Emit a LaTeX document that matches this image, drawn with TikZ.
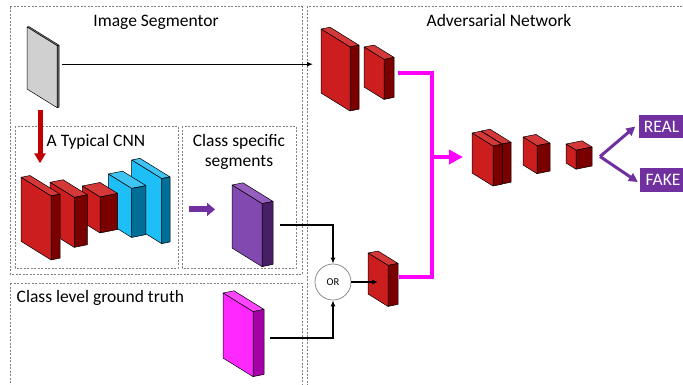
\documentclass[tikz,border=0pt]{standalone}
\usepackage{fontspec}
\setmainfont{Carlito}
\usepackage{tikz}
\usetikzlibrary{arrows.meta, calc}
\definecolor{redF}{RGB}{204, 30, 30}
\definecolor{redS}{RGB}{122, 0, 0}
\definecolor{redT}{RGB}{212, 56, 56}
\definecolor{cyanF}{RGB}{30, 190, 246}
\definecolor{cyanS}{RGB}{0, 110, 150}
\definecolor{cyanT}{RGB}{62, 196, 242}
\definecolor{grayF}{RGB}{208, 208, 208}
\definecolor{grayS}{RGB}{95, 95, 95}
\definecolor{grayT}{RGB}{150, 150, 150}
\definecolor{purpF}{RGB}{130, 74, 176}
\definecolor{purpS}{RGB}{72, 30, 102}
\definecolor{purpT}{RGB}{150, 94, 190}
\definecolor{magF}{RGB}{255, 40, 255}
\definecolor{magS}{RGB}{165, 0, 165}
\definecolor{magT}{RGB}{255, 70, 255}
\definecolor{magenta1}{RGB}{255, 0, 255}
\definecolor{violet1}{RGB}{112, 48, 160}
\definecolor{arrowred}{RGB}{192, 0, 0}

% one layer: name, x, y, depth, height, thickness, colour family
\newcommand{\layerbox}[7]{%
  \filldraw[fill=#7T, boxedge] (#2,#3) -- ++(#4,0.62*#4) -- ++(#6,-0.2*#6) -- ++(-#4,-0.62*#4) -- cycle;
  \filldraw[fill=#7S, boxedge] (#2+#4,#3+0.62*#4) -- ++(#6,-0.2*#6) -- ++(0,#5) -- ++(-#6,0.2*#6) -- cycle;
  \filldraw[fill=#7F, boxedge] (#2,#3) -- ++(#4,0.62*#4) -- ++(0,#5) -- ++(-#4,-0.62*#4) -- cycle;
  \coordinate (#1-l) at (#2,#3+0.55*#5);
  \coordinate (#1-r) at (#2+#4+#6,#3+0.62*#4-0.2*#6+0.5*#5);
  \coordinate (#1-b) at (#2+0.5*#4,#3+0.31*#4+#5);
}

\begin{document}
\begin{tikzpicture}[x=1pt, y=-1pt, font=\fontsize{17.5}{21}\selectfont,
  boxedge/.style={draw=black, line width=0.5pt, line join=round},
  dashbox/.style={draw=gray, dash pattern=on 2pt off 1.5pt, line width=0.7pt},
  heading/.style={inner sep=0pt, anchor=base},
  conn/.style={draw=black, line width=1.3pt, -{Latex[length=6pt,width=5pt]}},
  magline/.style={draw=magenta1, line width=4pt},
  outbox/.style={fill=violet1, text=white, minimum width=46pt, minimum height=23.5pt, inner sep=0pt}]
  \useasboundingbox (0,0) rectangle (683,384);
  \clip (0,0) rectangle (683,384);

  % frames
  \draw[dashbox] (10,6.5) rectangle (302,274);
  \draw[dashbox] (15,126) rectangle (178,268);
  \draw[dashbox] (182,126) rectangle (296,268);
  \draw[dashbox] (10,283) rectangle (302,400);
  \draw[dashbox] (307,400) -- (307,6.5) -- (700,6.5);

  \node[heading] (segtitle) at (156,26) {Image Segmentor};
  \node[heading, anchor=base west] (cnntitle) at (46.5,146) {A Typical CNN};
  \node[heading] (clstitle) at (239,146) {Class specific};
  \node[heading] (clstitle2) at (239,166.5) {segments};
  \node[heading] (advtitle) at (499,26) {Adversarial Network};
  \node[heading, anchor=base west] (gttitle) at (16.5,302) {Class level ground truth};

  % image segmentor
  \layerbox{input}{27}{27}{30}{62}{2}{gray}
  \layerbox{cnnE}{131.7}{160}{30}{65}{8.3}{cyan}
  \layerbox{cnnD}{108.3}{174}{23.3}{49}{14.3}{cyan}
  \layerbox{cnnC}{82.3}{186}{17.7}{36}{17.7}{red}
  \layerbox{cnnB}{50}{182.3}{24.3}{50}{13}{red}
  \layerbox{cnnA}{21}{177.3}{30}{64}{9}{red}
  \layerbox{seg}{232}{185}{30}{63}{11}{purp}
  \layerbox{truth}{223}{293}{30}{65}{11}{mag}

  \draw[draw=arrowred, line width=5pt, -{Triangle[length=10pt,width=11pt]}]
    ([xshift=-2pt,yshift=-12pt]input-b) -- ++(0,53);
  \draw[draw=violet1, line width=6pt, -{Triangle[length=8pt,width=13pt]}]
    ([xshift=19pt]cnnE-r) -- ([xshift=-17pt]seg-l |- cnnE-r);

  % adversarial network
  \layerbox{bigred}{321}{29}{29}{64}{9}{red}
  \layerbox{smallred}{364}{47}{20}{40}{10}{red}
  \layerbox{lowred}{368}{253}{20}{41}{10}{red}
  \layerbox{dblB}{481}{131}{21}{40}{9}{red}
  \layerbox{dblA}{472}{133}{21}{40}{9}{red}
  \layerbox{mid}{523}{137}{14}{28}{13}{red}
  \layerbox{last}{566}{144}{10}{19}{16}{red}

  \node[draw=gray, line width=0.7pt, circle, minimum size=36pt, inner sep=0pt,
    font=\fontsize{10.5}{12}\selectfont] (or) at (333,282) {OR};

  \draw[conn] ([xshift=3pt]input-r |- bigred-l) -- ([xshift=-8pt]bigred-l);
  \draw[conn] ([xshift=7pt,yshift=8pt]seg-r) -| (or.north);
  \draw[conn] ([xshift=6pt,yshift=4pt]truth-r) -| (or.south);
  \draw[conn] (or.east) -- (or.east -| lowred-b);

  \coordinate (join) at (432,157);
  \draw[magline] ([xshift=4pt,yshift=4pt]smallred-r) -| (join) |- ([xshift=1pt,yshift=7pt]lowred-r);
  \draw[magline, -{Triangle[length=14pt,width=14pt]}] (join) -- ([xshift=-9pt]join -| dblA-l);

  \node[outbox] (real) at (661.5,126.5) {REAL};
  \node[outbox] (fake) at (663,180) {FAKE};
  \coordinate (fork) at ([xshift=8pt]last-r);
  \draw[draw=violet1, line width=3pt, -{Triangle[length=9pt,width=9pt]}] (fork) -- ([xshift=-3pt]real.west);
  \draw[draw=violet1, line width=3pt, -{Triangle[length=9pt,width=9pt]}] (fork) -- ([xshift=-2pt,yshift=-2pt]fake.west);
\end{tikzpicture}
\end{document}
